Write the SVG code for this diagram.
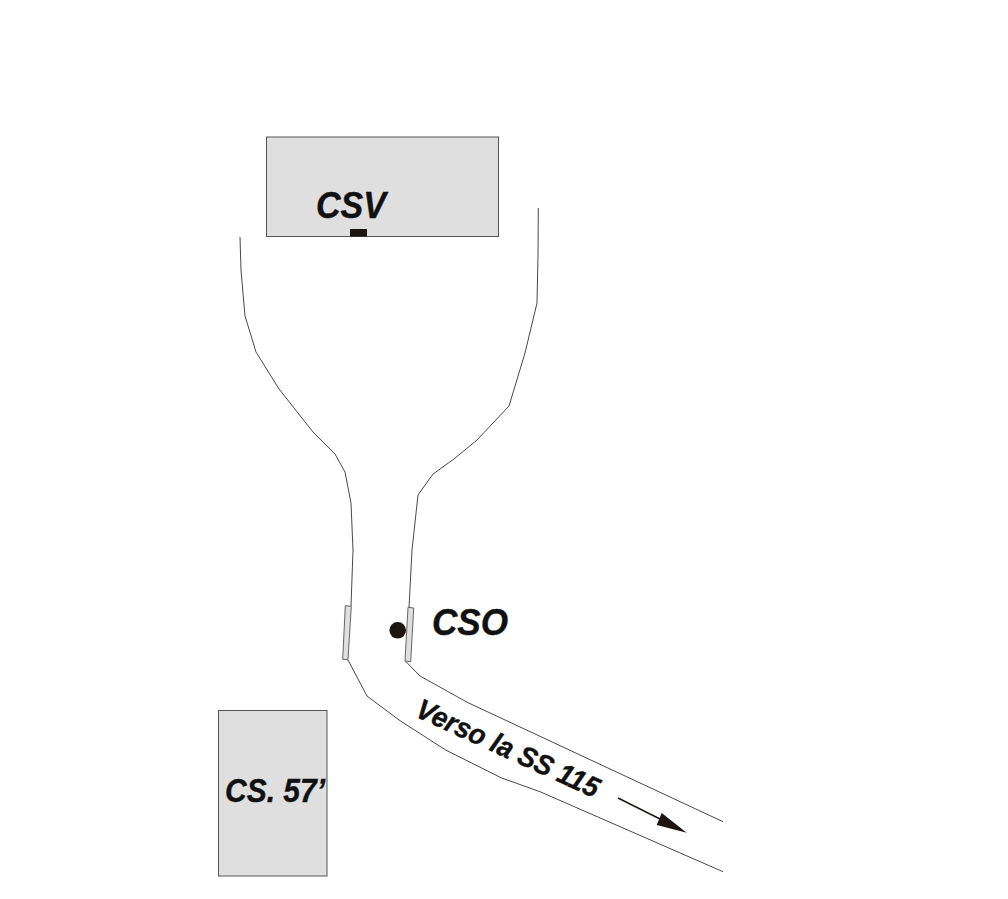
<svg xmlns="http://www.w3.org/2000/svg" width="1008" height="899" viewBox="0 0 1008 899">
<style>
.road{fill:none;stroke:#333;stroke-width:0.9}
.block{fill:#dfdfdf;stroke:#555;stroke-width:1}
.gate{fill:#dfdfdf;stroke:#555;stroke-width:0.9}
.mark{fill:#1c1512}
text{font-family:"Liberation Sans",Arial,sans-serif;font-weight:bold;font-style:italic;fill:#111;stroke:#111;stroke-width:0.4}
</style>
<rect width="1008" height="899" fill="#fff"/>
<g id="connectors">
<polyline class="road" points="240,237 241,270 245,316 249,329 256,352 279,389 313,432 335,454 345,472 351,503 353,550 351,606"/>
<polyline class="road" points="538.3,208 538,255 537,303 525,353 509,406 477,440 454,459 433,474 418,495 412,550 409,608"/>
<polyline class="road" points="348,660 367,696 400,720.7 445.7,750 501.7,778 540,791.7 723,871.7"/>
<polyline class="road" points="406,661.7 420,676 468,702.7 723,821.7"/>
<line x1="618" y1="798" x2="660" y2="819" stroke="#1c1512" stroke-width="1.5"/>
<polygon class="mark" points="686.7,832.7 661.7,813 656.7,825"/>
</g>
<g id="csv">
<rect class="block" x="266.5" y="137" width="232" height="99.5"/>
<rect class="mark" x="350" y="229" width="17" height="7.5"/>
<text x="316" y="218" font-size="37" textLength="70" lengthAdjust="spacingAndGlyphs">CSV</text>
</g>
<g id="cs57">
<rect class="block" x="218.5" y="710.5" width="108.5" height="165.5"/>
<text x="225" y="801.5" font-size="33" textLength="100" lengthAdjust="spacingAndGlyphs">CS. 57’</text>
</g>
<g id="gate-left"><polygon class="gate" points="345.3,605.7 351.3,606.3 348,659.7 342.7,659.3"/></g>
<g id="gate-right"><polygon class="gate" points="408,607.3 413.7,608 410.7,661.7 405,661"/></g>
<g id="cso">
<circle class="mark" cx="397.7" cy="630.3" r="8.3"/>
<text x="432" y="635" font-size="37" textLength="76" lengthAdjust="spacingAndGlyphs">CSO</text>
</g>
<g id="road-label">
<text transform="translate(414,716) rotate(24.5)" font-size="28.5" textLength="198" lengthAdjust="spacingAndGlyphs">Verso la SS 115</text>
</g>
</svg>
